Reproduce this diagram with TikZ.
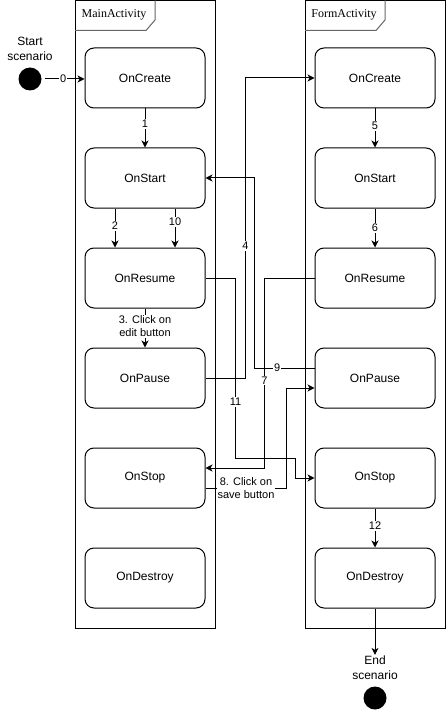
\documentclass[tikz,border=0pt]{standalone}
\usepackage{fontspec}
\setmainfont{Liberation Sans}
\newfontfamily\framefont{Liberation Serif}
\usetikzlibrary{arrows.meta}
\begin{document}
\begin{tikzpicture}[x=1pt,y=-1pt,
  state/.style={draw, line width=1pt, rounded corners=9pt, minimum width=120pt,
    minimum height=60pt, inner sep=0pt, font=\fontsize{12}{14}\selectfont},
  frameline/.style={draw, line width=1pt},
  tabline/.style={draw=black!60, line width=1pt},
  tabtext/.style={font=\framefont\fontsize{12}{14}\selectfont, inner sep=0pt},
  arr/.style={line width=1pt, -{Stealth[length=7pt,width=7pt,inset=2pt]}},
  lab/.style={fill=white, inner sep=1pt, align=center,
    font=\fontsize{11}{13}\selectfont},
  dot/.style={circle, fill=black, minimum size=23pt, inner sep=0pt},
  caption/.style={align=center, inner sep=1pt, font=\fontsize{12}{15}\selectfont}
]
\useasboundingbox (0,0) rectangle (446,714);

% activity frames with their name tabs
\draw[frameline] (75,0.5) rectangle (215,628);
\draw[tabline] (75,30.5) -- (146,30.5) -- (155,20) -- (155,0.5);
\node[tabtext] (mainname) at (114,15) {MainActivity};

\draw[frameline] (305,0.5) rectangle (445,628);
\draw[tabline] (305,30.5) -- (376,30.5) -- (385,20) -- (385,0.5);
\node[tabtext] (formname) at (344,15) {FormActivity};

% lifecycle states of MainActivity
\node[state] (m1) at (145,78)  {OnCreate};
\node[state] (m2) at (145,178) {OnStart};
\node[state] (m3) at (145,278) {OnResume};
\node[state] (m4) at (145,378) {OnPause};
\node[state] (m5) at (145,478) {OnStop};
\node[state] (m6) at (145,578) {OnDestroy};

% lifecycle states of FormActivity
\node[state] (f1) at (375,78)  {OnCreate};
\node[state] (f2) at (375,178) {OnStart};
\node[state] (f3) at (375,278) {OnResume};
\node[state] (f4) at (375,378) {OnPause};
\node[state] (f5) at (375,478) {OnStop};
\node[state] (f6) at (375,578) {OnDestroy};

% start and end of the scenario
\node[dot] (start) at (30,79) {};
\node[caption] (starttxt) at (30,48.5) {Start\\scenario};
\node[caption] (endtxt) at (375,668) {End\\scenario};
\node[dot] (end) at (375,698) {};

% transitions
\draw[arr, shorten <=3pt] (start.east) -- node[lab]{0} (m1.west |- start.east);
\draw[arr] (m1.south) -- node[lab, pos=0.4]{1} (m2.north);
\draw[arr] ([xshift=-30pt]m2.south) -- node[lab, pos=0.45]{2} ([xshift=-30pt]m3.north);
\draw[arr] (m3.south) -- node[lab, pos=0.45]{3. Click on\\edit button} (m4.north);
\draw[arr] (m4.east) -- ++(40,0) |- node[lab, pos=0.22]{4} (f1.west);
\draw[arr] (f1.south) -- node[lab, pos=0.45]{5} (f2.north);
\draw[arr] (f2.south) -- node[lab, pos=0.5]{6} (f3.north);
\draw[arr] (f3.west) -- ++(-50,0) |- node[lab, pos=0.27]{7} ([yshift=10pt]m5.east);
\draw[arr] ([yshift=-10pt]m5.east) -- node[lab]{8. Click on\\save button} ++(81,0)
  |- ([yshift=-10pt]f4.west);
\draw[arr] ([yshift=10pt]f4.west) -- node[lab, pos=0.62]{9} ++(-60,0) |- (m2.east);
\draw[arr] ([xshift=30pt]m2.south) -- node[lab, pos=0.35]{10} ([xshift=30pt]m3.north);
\draw[arr] (m3.east) -- ++(30,0) -- node[lab, pos=0.69]{11} ++(0,180)
  -- ++(60,0) |- (f5.west);
\draw[arr] (f5.south) -- node[lab, pos=0.45]{12} (f6.north);
\draw[arr] (f6.south) -- (endtxt.north);
\end{tikzpicture}
\end{document}
